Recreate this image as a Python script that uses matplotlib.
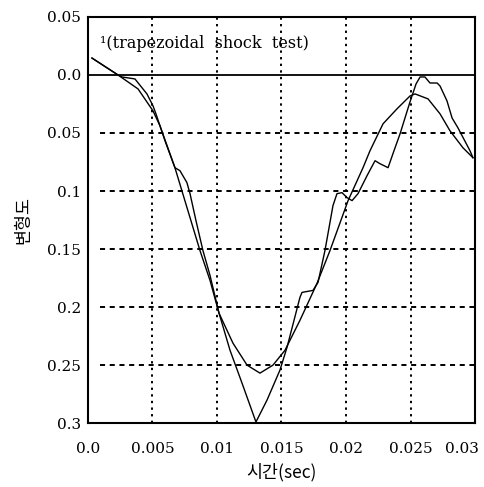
import matplotlib
matplotlib.use("Agg")
import matplotlib.pyplot as plt
from matplotlib.transforms import ScaledTranslation

# Deformation vs. time, trapezoidal shock test
sim_t = [0.00031, 0.00233, 0.00388, 0.00504, 0.00558, 0.00674, 0.00868, 0.00946,
         0.01016, 0.01124, 0.01233, 0.01333, 0.01434, 0.01527, 0.01643, 0.01775,
         0.01876, 0.02016, 0.02132, 0.02186, 0.02287, 0.02395, 0.02496, 0.02535,
         0.02636, 0.02729, 0.02806, 0.02907, 0.02984]
sim_d = [-0.0146, 0.0, 0.0120, 0.0309, 0.0438, 0.0799, 0.1513, 0.1771,
         0.2054, 0.2312, 0.2501, 0.2570, 0.2501, 0.2373, 0.2115, 0.1797,
         0.1513, 0.1083, 0.0799, 0.0653, 0.0421, 0.0292, 0.0181, 0.0163,
         0.0206, 0.0335, 0.0481, 0.0628, 0.0713]

exp_t = [0.00031, 0.00233, 0.00264, 0.00364, 0.00457, 0.00504, 0.00527, 0.00597,
         0.00674, 0.00713, 0.00767, 0.00791, 0.00837, 0.00891, 0.00946, 0.01016,
         0.01101, 0.01194, 0.01302, 0.01388, 0.01488, 0.01543, 0.01597, 0.01643,
         0.01659, 0.01744, 0.01783, 0.01837, 0.01899, 0.01930, 0.01969, 0.02008,
         0.02047, 0.02093, 0.02163, 0.02225, 0.02264, 0.02326, 0.02372, 0.02419,
         0.02496, 0.02543, 0.02574, 0.02612, 0.02651, 0.02706, 0.02729, 0.02783,
         0.02822, 0.02868, 0.02961, 0.02984]
exp_d = [-0.0146, 0.0, 0.0017, 0.0034, 0.0163, 0.0266, 0.0335, 0.0567,
         0.0799, 0.0825, 0.0928, 0.1023, 0.1255, 0.1513, 0.1728, 0.2054,
         0.2373, 0.2656, 0.2991, 0.2802, 0.2544, 0.2347, 0.2115, 0.1917,
         0.1874, 0.1857, 0.1788, 0.1513, 0.1126, 0.1023, 0.1014, 0.1057,
         0.1083, 0.1023, 0.0868, 0.0739, 0.0765, 0.0799, 0.0653, 0.0507,
         0.0232, 0.0077, 0.0017, 0.0017, 0.0069, 0.0069, 0.0095, 0.0224,
         0.0370, 0.0456, 0.0653, 0.0713]

x_ticks = [0.0, 0.005, 0.01, 0.015, 0.02, 0.025, 0.03]
x_labels = ["0.0", "0.005", "0.01", "0.015", "0.02", "0.025", "0.03"]
y_ticks = [-0.05, 0.0, 0.05, 0.1, 0.15, 0.2, 0.25, 0.3]
y_labels = ["0.05", "0.0", "0.05", "0.1", "0.15", "0.2", "0.25", "0.3"]

serif = "DejaVu Serif"
cjk = ["Noto Sans CJK KR", "DejaVu Sans"]

fig = plt.figure(figsize=(4.85, 4.87), dpi=100)
ax = fig.add_axes([0.1814, 0.1314, 0.798, 0.8337])

ax.set_xlim(0, 0.03)
ax.set_ylim(0.3, -0.05)

# dotted grid
for xv in x_ticks[1:-1]:
    ax.axvline(xv, color="black", lw=1.4, ls=(0, (1.2, 2.2)), zorder=1)
for yv in y_ticks[2:-1]:
    ax.axhline(yv, xmin=0.031, color="black", lw=1.4, ls=(0, (2.6, 2.4)), zorder=1)
ax.axhline(0.0, color="black", lw=1.3, zorder=2)

ax.plot(sim_t, sim_d, color="black", lw=1.0, zorder=3)
ax.plot(exp_t, exp_d, color="black", lw=1.0, zorder=3)

ax.text(0.00093, -0.0275, "¹(trapezoidal  shock  test)", family=serif,
        fontsize=11.5, va="center", ha="left")

ax.set_xticks(x_ticks)
ax.set_xticklabels(x_labels, family=serif, fontsize=11)
ax.set_yticks(y_ticks)
ax.set_yticklabels(y_labels, family=serif, fontsize=11)
ax.tick_params(axis="x", length=0, pad=13.5)
ax.tick_params(axis="y", length=0, pad=5)

# keep the last time label inside the figure edge
last = ax.get_xticklabels()[-1]
last.set_transform(last.get_transform() + ScaledTranslation(-0.13, 0, fig.dpi_scale_trans))

for s in ax.spines.values():
    s.set_linewidth(1.5)
    s.set_color("black")

ax.set_xlabel("시간(sec)", family=cjk, fontsize=12.5, labelpad=5)
ax.set_ylabel("변형도", family=cjk, fontsize=12.5, labelpad=11)

fig.savefig("out.png", dpi=100)
